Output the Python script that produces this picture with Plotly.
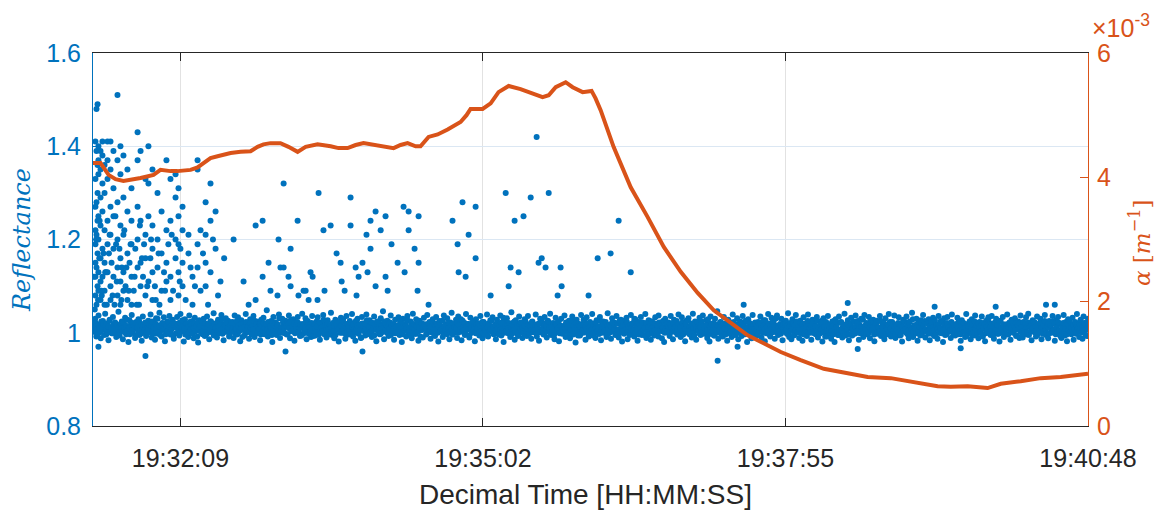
import plotly.graph_objects as go
from datetime import datetime, timedelta

# ---------------- data ----------------
t0 = datetime(2024, 1, 1, 19, 31, 19)   # left limit of the time axis
span_s = 569                              # seconds shown (to 19:40:48)

x_tick_times = ["19:32:09", "19:35:02", "19:37:55", "19:40:48"]
y_left_ticks = [0.8, 1.0, 1.2, 1.4, 1.6]
y_left_text = ["0.8", "1", "1.2", "1.4", "1.6"]
y_right_ticks_e3 = [0, 2, 4, 6]

# reflectance band, stream A: deviation from 1.01 in thousandths (regularly sampled)
band_dev_a = [
    12,-5,20,-18,3,27,-9,-22,8,15,-3,31,-14,6,-26,18,0,-11,24,-7,10,-19,4,35,-16,-2,14,-24,9,22,
    -13,1,-30,17,-6,28,-10,5,-21,13,-1,19,-15,7,-27,25,-4,11,-17,2,16,-8,29,-20,-3,12,-25,21,6,-12,
    33,-5,-18,10,23,-28,3,14,-9,26,-14,0,18,-23,8,-11,24,4,-16,30,-7,13,-29,19,-2,9,-19,27,-10,1,
    15,-22,22,-6,11,-31,17,-1,7,-13,20,-17,2,25,-9,-24,14,6,-4,32,-15,10,-20,18,-7,3,28,-12,-26,9,
    21,-3,16,-18,5,-6,13,-21,27,0,-14,23,8,-28,17,-2,11,-16,30,-9,4,-23,19,1,-11,26,-19,7,14,-5,
    9,-26,18,-4,22,-13,3,38,-18,6,-8,15,-30,24,-1,12,-15,5,29,-21,-6,20,-10,2,16,-14,4,27,-22,10,
    -3,19,-27,13,-9,24,1,-17,8,31,-12,-2,21,-24,15,-7,6,-19,26,-11,3,-16,14,23,-8,-25,11,0,28,-13,
    7,-20,17,-5,2,33,-15,9,-22,18,-4,12,-29,5,22,-10,19,-1,-23,26,8,-14,15,-6,30,-18,4,-27,12,20,
    -9,1,-21,24,-3,10,-16,29,-12,6,17,-7,-19,11,25,-2,-28,14,3,-13,21,-8,36,-24,9,-4,16,-17,0,27,
    -11,7,-25,18,4,-6,23,-15,12,-30,20,-1,8,-18,26,-9,2,14,-22,31,-5,-12,19,5,-27,16,-3,10,-20,22,
    0,-14,28,-8,13,-23,6,19,-2,-17,24,10,-29,15,-6,3,-19,27,-11,8,21,-4,-24,12,33,-13,1,-9,18,-21,
    25,-7,11,-26,16,2,-15,30,-3,9,-20,22,-10,5,14,-28,19,-1,7,-16,26,-8,-22,13,4,-12,29,-18,6,17,
    -5,23,-13,1,-24,18,10,-7,27,-16,3,-30,15,-2,21,-11,8,-19,34,-6,12,-25,17,0,-14,25,-9,4,-21,11,
    19,-2,-17,26,-10,6,-23,14,1,-8,29,-18,9,-27,20,-4,12,-13,24,3,-20,16,-6,31,-15,7,-1,-24,22,-9,
    13,-28,5,20,-12,-3,27,-19,8,-7,16,-22,2,25,-14,11,-31,18,-5,9,-16,28,-2,-10,15,-25,23,4,-18,6,
    -4,30,-16,10,-21,17,-1,-12,24,-26,7,14,-8,3,-19,32,-11,5,-23,21,-6,12,-15,26,-3,-20,9,18,-29,1,
    16,-9,22,-24,4,-13,28,-6,11,-18,19,0,-27,13,-4,24,-15,8,-2,30,-21,6,17,-10,-25,14,2,-16,23,-7,
    -12,27,-3,8,-22,15,-30,20,5,-9,12,-17,26,-1,-24,18,-6,10,-14,29,3,-19,23,-11,7,-28,16,-4,21,-13,
    4,-20,31,-8,14,-25,9,-2,22,-15,1,27,-12,-6,17,-21,11,-29,25,-3,8,-16,20,-10,36,-23,5,13,-7,-18,
    24,-11,2,-27,18,-5,12,-19,29,-8,6,-14,21,-24,10,3,-17,26,-9,-1,15,-30,19,-4,9,-22,28,-13,7,-2,
    -16,13,-7,25,-20,1,17,-28,8,-11,30,-3,-18,22,-9,14,-23,5,27,-15,2,-6,20,-26,11,-1,16,-12,32,-19,
    6,-24,19,-3,-14,28,-8,11,-21,16,0,-27,23,-10,4,-17,29,-5,12,-25,18,-2,9,-13,24,-20,3,-7,15,-29,
    21,-6,10,-18,26,-12,3,-23,14,7,-30,19,-1,-15,25,-8,13,-20,6,31,-11,-4,17,-26,8,22,-16,1,-9,27,
    -10,15,-25,4,20,-7,-19,28,-2,11,-14,24,-22,5,-5,18,-28,9,16,-12,-1,26,-17,12,-8,-24,21,3,-13,30,
    2,-18,13,-9,27,-21,7,-4,23,-16,10,-29,18,-6,1,25,-13,-22,14,-3,33,-19,6,-11,20,-27,11,-5,17,-15,
    28,-2,-20,12,-8,19,-26,4,-12,22,-17,9,0,-23,26,-10,15,-6,-30,21,5,-14,24,-4,10,-21,29,-9,3,-16,
    -7,22,-13,6,-27,17,-3,10,-19,30,-11,1,14,-24,19,-8,-16,27,-1,8,-22,13,-5,25,-18,2,-28,16,-10,23,
    11,-15,26,-4,-23,9,20,-12,3,-29,16,-7,24,-19,7,-2,29,-14,12,-25,18,-9,-3,21,-17,5,14,-21,27,-6,
    -20,8,-1,23,-14,31,-9,4,-26,17,-5,12,-18,25,-11,0,20,-24,9,-7,28,-15,2,-22,15,6,-10,26,-3,-27,
    17,-12,24,-6,9,-21,2,28,-16,13,-28,19,-3,7,-13,22,-25,10,-8,30,-1,-19,14,4,-23,25,-6,11,-17,20,
]

# reflectance band, stream B: deviation from 1.01 in thousandths (regularly sampled)
band_dev_b = [
    5,-8,2,11,-3,-12,7,0,-6,14,-1,9,-15,4,-4,10,-9,3,16,-7,1,-11,8,-2,12,-5,6,-14,3,-10,
    9,-1,-7,13,2,-9,5,18,-4,0,-13,7,-6,11,-2,4,-17,10,1,-8,15,-3,6,-11,2,8,-5,12,-9,0,
    -3,7,-10,4,14,-6,1,-12,9,-2,20,-8,3,-15,6,11,-4,-1,8,-13,5,-7,13,2,-10,-3,9,-16,4,10,
    1,-11,6,-4,12,-8,3,17,-6,2,-14,8,-1,5,-9,13,-3,7,-12,0,10,-6,4,-18,11,-2,6,-9,15,-4,
    -7,3,10,-13,1,8,-5,-2,14,-9,4,-16,7,0,11,-7,3,-11,9,-3,19,-10,2,6,-8,12,-4,1,-14,8,
    12,-5,1,-9,6,-2,15,-12,4,-6,9,-1,-19,7,2,-10,13,-5,3,-8,10,0,-13,5,-3,16,-7,8,-11,2,
    -2,9,-14,5,-6,11,0,-10,7,-3,13,-8,4,-1,-15,10,-4,6,-12,3,8,-6,21,-9,1,-5,12,-2,-11,7,
    4,-13,8,-1,16,-7,2,-4,10,-11,5,-3,12,-8,0,7,-16,3,9,-5,-1,14,-9,6,-12,2,-6,11,-3,-17,
    10,-4,-9,3,7,-14,12,-2,1,-7,18,-11,5,-4,9,-1,-13,6,2,-9,11,-6,4,-15,8,0,-3,13,-10,5,
    -6,14,-2,-11,4,9,-8,1,-5,12,-14,3,7,-3,-9,15,-1,5,-12,8,-4,-20,10,2,-7,6,-2,17,-13,1,
    3,-9,11,-5,0,-16,8,-3,13,-7,2,10,-12,5,-1,-8,14,-4,7,-10,3,-2,12,-15,6,-6,9,-1,-11,4,
    -10,6,-3,15,-8,1,-13,9,-5,4,-1,17,-9,2,-14,11,-6,0,8,-3,-12,5,13,-7,1,-18,10,-4,3,7,
    8,-2,-12,5,10,-6,3,-9,14,-1,-15,6,-4,9,-10,2,12,-7,-2,16,-11,4,-5,8,-13,0,11,-8,5,-3,
    -14,9,2,-6,-1,12,-10,7,-3,19,-8,1,-5,11,-13,4,-2,9,-16,6,0,-9,14,-4,3,-11,7,-1,10,-6,
    2,-7,13,-11,5,-4,8,-15,1,10,-6,-2,16,-9,3,-12,7,-5,11,-1,-14,6,-3,12,-8,22,-10,4,-7,9,
    -1,11,-8,3,-13,7,-4,14,-10,0,6,-17,9,-3,12,-6,1,-11,5,15,-7,-2,8,-12,4,-5,13,-9,2,-4,
    7,-12,4,-2,10,-9,17,-5,1,-14,8,-3,5,-8,13,-1,-10,6,-6,11,-15,3,9,-4,-1,14,-11,5,-7,0,
    -9,5,-1,12,-7,2,-11,9,-4,15,-13,6,0,-6,11,-2,-16,8,3,-10,7,-5,18,-8,4,-3,10,-12,1,13,
    6,-3,-14,8,-5,11,-1,-8,4,-12,16,-6,2,-10,9,-4,13,-15,5,-1,7,-9,3,12,-7,-2,8,-13,10,-5,
    -4,16,-10,1,-6,9,-12,5,-2,13,-8,3,-15,7,-1,10,-5,20,-11,4,-3,8,-14,6,0,-9,12,-4,2,-16,
    11,-6,3,-13,7,-1,14,-9,2,-4,10,-11,6,-18,12,-3,5,-7,1,15,-10,-2,9,-5,4,-12,7,3,-8,11,
    -5,2,-9,15,-3,8,-12,1,-7,12,-14,4,-2,9,-6,17,-11,3,-4,10,-9,0,-16,8,-1,13,-6,5,-12,2,
    14,-8,5,-2,-10,6,-4,19,-13,3,-1,8,-7,11,-16,2,7,-9,4,-3,12,-12,6,-5,10,-1,-14,9,-3,6,
    -11,4,-6,10,-2,13,-15,7,0,-8,5,-3,14,-10,2,-5,9,-13,16,-4,1,-7,11,-9,3,-17,8,-2,12,-6,
    3,-14,9,-5,12,-1,-9,6,-3,17,-11,2,-6,10,-15,4,-2,13,-8,5,-4,21,-10,1,-7,9,-12,4,-1,8,
    -8,10,-3,6,-13,2,11,-6,-1,9,-16,5,-4,14,-9,1,-3,12,-11,7,-2,-14,10,-5,3,15,-8,0,-10,6,
    9,-1,-11,4,-7,15,-5,2,-12,8,-3,11,-9,3,-18,13,-2,6,-10,1,9,-6,4,-13,16,-4,2,-8,11,-15,
    -3,12,-7,1,-10,5,-16,9,-2,7,-13,4,10,-4,-1,14,-12,3,-7,11,-5,8,-11,2,-6,18,-9,5,-3,-12,
    6,-10,2,13,-5,-3,9,-14,7,-1,12,-8,1,-6,16,-11,4,-4,10,-15,3,-2,7,-9,13,-1,-12,8,-6,4,
    -12,7,-4,11,-9,2,-15,6,3,-7,14,-2,-10,8,-5,12,-13,1,-3,19,-8,5,-1,-11,9,-6,3,-16,10,-2,
    5,-6,15,-3,-8,10,-12,4,-1,13,-9,2,-5,17,-14,6,-2,9,-7,0,-11,12,-4,7,-15,3,11,-9,1,-5,
    -7,13,-1,-12,6,-4,9,-10,2,16,-6,-13,5,-3,11,-8,1,-17,8,4,-5,10,-2,-14,7,-9,14,-1,6,-11,
    10,-3,-8,5,-14,11,-1,7,-11,3,-5,20,-9,2,-6,9,-15,4,12,-7,-2,6,-12,15,-4,1,-10,8,-3,-13,
    -2,8,-13,3,9,-6,-1,14,-10,5,-4,11,-16,6,-3,10,-8,2,-12,13,-5,7,1,-9,12,-15,4,-6,9,-1,
    13,-9,4,-5,-15,8,-2,11,-7,1,-12,6,15,-4,-10,3,9,-11,5,-1,14,-6,-3,10,-13,2,-8,12,-5,-17,
    -6,3,11,-10,5,-2,-14,9,-4,16,-8,1,-11,7,-3,13,-12,4,-1,10,-7,18,-9,2,-5,11,-13,6,-2,8,
]

# scattered reflectance points away from the band: seconds after t0, value
out_t = [
    1.4,1.4,1.4,1.4,1.4,1.4,1.4,1.4, 2.0,2.0,2.0,2.0,2.0,2.0, 2.6,2.6,2.6,2.6,2.6,2.6,
    3.1,3.1,3.1,3.1,3.1,3.1,3.1,3.1, 4.3,4.3,4.3,4.3,4.3,4.3,4.3, 5.4,5.4,5.4,5.4,5.4,5.4,
    6.6,6.6,6.6,6.6,6.6,6.6, 8.3,8.3,8.3,8.3,8.3,8.3, 10.0,10.0,10.0,10.0,10.0,10.0,
    11.7,11.7,11.7,11.7,11.7, 14.0,14.0,14.0,14.0,14.0,14.0, 15.7,15.7,15.7,15.7,15.7,15.7,
    17.4,17.4,17.4,17.4,17.4, 19.7,19.7,19.7,19.7, 22.0,22.0,22.0,22.0,22.0,
    25.5,25.5,25.5,25.5,25.5, 27.2,27.2,27.2,27.2, 30.0,30.0,30.0,30.0,30.0,
    31.7,31.7,31.7,31.7, 34.0,34.0,34.0,34.0,34.0, 36.9,36.9,36.9, 39.2,39.2,39.2,
    42.0,42.0,42.0,42.0, 44.3,44.3,44.3,44.3, 47.2,47.2,47.2,47.2, 48.9,48.9,48.9,48.9,48.9,
    51.2,51.2,51.2,51.2, 54.6,54.6, 56.9,56.9, 59.8,59.8,59.8,59.8, 61.5,61.5,
    64.4,64.4,64.4,64.4, 67.2,67.2,67.2, 70.1,70.1, 72.9,
    1.0,3.6,5.0,7.4,9.1,12.3,13.2,16.5,18.6,20.9,23.3,24.2,26.3,28.6,29.2,32.8,35.4,38.0,
    40.6,43.1,45.8,50.0,53.0,55.8,58.3,62.9,65.8,68.6,71.5,75.0,
    0.5,1.8,2.9,3.8,4.8,6.0,7.0,7.9,9.5,10.6,11.2,12.8,13.6,15.1,16.2,17.9,19.1,20.4,21.5,
    23.8,25.0,26.8,28.0,31.0,33.2,35.9,37.5,41.2,45.0,49.6,
    80.4,86.1,89.0,93.0,93.0,97.0,97.0,100.4,101.5,105.5,106.1,107.2,109.0,109.0,110.1,
    111.8,113.0,113.0,117.0,117.5,120.4,121.6,123.3,124.4,125.6,128.4,129.0,131.8,132.4,
    135.9,139.3,141.6,142.2,143.9,147.3,147.3,150.2,150.7,151.9,154.1,154.1,156.4,157.0,
    158.7,158.7,161.6,161.6,164.5,167.3,167.3,168.5,170.7,174.2,177.6,178.2,180.5,180.5,
    183.9,185.6,186.2,186.2,191.9,205.6,208.5,209.1,211.3,213.1,214.8,218.8,218.8,227.4,
    236.0,237.7,238.8,241.1,243.4,246.2,250.3,253.7,254.8,256.6,258.8,260.6,265.7,267.4,
    268.0,283.4,288.6,296.0,300.6,307.5,
    357.2,368.6,372.1,431.6,437.3,481.3,496.2,516.2,545.0,550.0,
]
out_v = [
    1.41,1.33,1.27,1.22,1.19,1.15,1.12,1.08, 1.48,1.39,1.28,1.21,1.14,1.06, 1.49,1.36,1.30,1.24,1.17,1.10,
    1.40,1.37,1.34,1.25,1.20,1.13,1.09,0.97, 1.39,1.35,1.29,1.23,1.16,1.11,1.07, 1.41,1.38,1.32,1.26,1.18,1.12,
    1.36,1.30,1.22,1.15,1.09,1.06, 1.41,1.37,1.33,1.24,1.19,1.13, 1.41,1.35,1.27,1.21,1.10,1.07,
    1.39,1.31,1.25,1.18,1.12, 1.51,1.37,1.28,1.20,1.14,1.08, 1.40,1.34,1.23,1.16,1.11,1.06,
    1.38,1.29,1.21,1.13,1.09, 1.35,1.26,1.17,1.07, 1.31,1.24,1.19,1.12,1.06,
    1.43,1.37,1.27,1.20,1.14, 1.39,1.24,1.15,1.10, 1.33,1.21,1.16,1.08,0.95,
    1.40,1.32,1.25,1.11, 1.35,1.23,1.18,1.13,1.07, 1.30,1.20,1.14, 1.26,1.17,1.09,
    1.37,1.22,1.15,1.11, 1.33,1.24,1.12,1.07, 1.34,1.29,1.20,1.16, 1.31,1.25,1.19,1.13,1.08,
    1.27,1.22,1.15,1.10, 1.21,1.17, 1.12,1.06, 1.37,1.35,1.19,1.14, 1.22,1.09,
    1.28,1.21,1.15,1.10, 1.32,1.24,1.13, 1.26,1.18, 1.11,
    1.05,1.16,1.08,1.13,1.17,1.06,1.19,1.14,1.10,1.15,1.09,1.18,1.06,1.12,1.19,1.16,1.10,1.06,
    1.13,1.19,1.09,1.18,1.07,1.14,1.10,1.17,1.06,1.20,1.08,1.16,
    1.12,1.20,1.07,1.24,1.09,1.17,1.13,1.06,1.21,1.15,1.08,1.25,1.11,1.18,1.07,1.22,1.14,1.09,1.19,
    1.12,1.06,1.23,1.16,1.10,1.20,1.07,1.17,1.09,1.21,1.11,
    1.20,1.11,1.06,1.23,1.07,1.24,1.12,1.15,1.09,1.08,1.20,1.14,1.32,1.14,0.96,
    1.12,1.18,1.10,1.24,1.08,1.09,1.09,1.07,1.13,1.12,1.07,1.30,1.22,1.09,
    1.23,1.17,1.15,1.11,1.09,1.29,1.23,1.14,1.08,1.12,1.15,0.96,1.21,1.13,
    1.24,1.18,1.10,1.26,1.22,1.12,1.25,1.09,1.19,1.15,1.27,1.13,1.22,1.26,
    1.18,1.09,1.15,1.25,1.06,1.24,1.19,1.13,1.28,1.12,1.21,1.27,1.16,1.08,
    1.30,1.10,1.14,1.24,1.13,1.25,1.29,1.42,1.15,1.16,1.14,1.30,1.08,1.14,
    1.10,1.08,1.16,1.17,1.24,1.13,
    0.94,0.97,1.06,1.064,0.965,1.056,0.967,1.056,1.06,1.06,
]

# extinction coefficient alpha (units of 1e-3 m^-1): seconds after t0, value
alpha_t = [
    0, 4.3, 8.9, 12.9, 17.4, 22.6, 27.2, 34.6, 38.6, 44.3, 48.3, 55.8, 59.8, 63.2, 67.2, 71.2,
    78.7, 84.4, 90.1, 94.1, 97.5, 101.5, 107.2, 111.8, 117.0, 121.6, 128.4, 135.9, 140.4,
    145.6, 150.2, 154.7, 162.7, 167.3, 171.9, 175.9, 179.9, 184.5, 187.3, 191.9, 197.1,
    202.8, 207.4, 210.2, 213.6, 215.9, 222.8, 227.4, 231.9, 237.7, 244.5, 252.0, 257.1,
    260.6, 264.6, 270.3, 274.3, 280.0, 285.1, 287.4, 290.3, 297.7, 307.5, 317.2, 326.4,
    336.1, 345.8, 355.0, 364.7, 374.4, 383.5, 393.3, 404.7, 417.9, 431.6, 443.0, 456.2,
    469.3, 483.0, 490.5, 500.2, 511.6, 519.1, 530.5, 542.0, 553.4, 569.0,
]
alpha_e3 = [
    4.23, 4.23, 4.04, 3.97, 3.94, 3.96, 3.99, 4.04, 4.12, 4.10, 4.10, 4.12, 4.16, 4.23, 4.31, 4.34,
    4.39, 4.41, 4.42, 4.49, 4.53, 4.55, 4.55, 4.49, 4.41, 4.49, 4.53, 4.50, 4.47,
    4.47, 4.52, 4.55, 4.52, 4.50, 4.47, 4.52, 4.55, 4.50, 4.50, 4.65, 4.69,
    4.77, 4.84, 4.89, 5.00, 5.10, 5.10, 5.19, 5.37, 5.47, 5.42, 5.35, 5.29,
    5.32, 5.45, 5.53, 5.45, 5.37, 5.39, 5.27, 5.08, 4.49, 3.84, 3.36, 2.88,
    2.48, 2.14, 1.86, 1.66, 1.46, 1.33, 1.19, 1.06, 0.92, 0.85, 0.79, 0.77,
    0.71, 0.64, 0.63, 0.64, 0.61, 0.68, 0.72, 0.77, 0.79, 0.84,
]

# ---------------- build ----------------
BLUE = "#0072BD"
ORANGE = "#D95319"
DARK = "#262626"
W, H = 1167, 510
ML, MR, MT, MB = 93, 79, 53, 84
PW, PH = W - ML - MR, H - MT - MB

def day(hms):
    return "2024-01-01 " + hms

def ts(sec):
    return t0 + timedelta(seconds=sec)

def stream(devs):
    n = len(devs)
    xs = [ts(i * span_s / (n - 1)) for i in range(n)]
    ys = [1.01 + d / 1000 for d in devs]
    return xs, ys

ax_, ay_ = stream(band_dev_a)
bx_, by_ = stream(band_dev_b)

fig = go.Figure()
fig.add_trace(go.Scatter(
    x=ax_ + bx_ + [ts(s) for s in out_t], y=ay_ + by_ + out_v,
    mode="markers", marker=dict(color=BLUE, size=6, line=dict(width=0)),
    yaxis="y", hoverinfo="skip"))
fig.add_trace(go.Scatter(
    x=[ts(s) for s in alpha_t], y=[a * 1e-3 for a in alpha_e3],
    mode="lines", line=dict(color=ORANGE, width=4),
    yaxis="y2", hoverinfo="skip"))

def px(x):
    return (x - ML) / PW

def py(y):
    return (H - MB - y) / PH

tickfont = dict(family="Liberation Sans, Arial, sans-serif", size=25)

fig.update_layout(
    width=W, height=H,
    margin=dict(l=ML, r=MR, t=MT, b=MB, pad=0),
    paper_bgcolor="white", plot_bgcolor="white",
    showlegend=False,
    xaxis=dict(
        type="date", range=[t0, ts(span_s)],
        tickvals=[day(t) for t in x_tick_times], ticktext=x_tick_times,
        ticks="inside", ticklen=8, tickcolor=DARK, tickwidth=1,
        showline=True, linecolor=DARK, linewidth=1, mirror="ticks",
        showgrid=True, gridcolor="#e2e2e2", gridwidth=1, zeroline=False,
        ticklabelstandoff=10,
        tickfont=dict(color=DARK, **tickfont)),
    yaxis=dict(
        range=[0.8, 1.6], tickvals=y_left_ticks, ticktext=y_left_text,
        ticks="inside", ticklen=8, tickcolor=BLUE, tickwidth=1,
        showline=True, linecolor=BLUE, linewidth=1,
        showgrid=True, gridcolor="#dbe7f3", gridwidth=1, zeroline=False,
        ticklabelstandoff=6,
        tickfont=dict(color=BLUE, **tickfont)),
    yaxis2=dict(
        overlaying="y", side="right", range=[0, 0.006],
        tickvals=[v * 1e-3 for v in y_right_ticks_e3], ticktext=[str(v) for v in y_right_ticks_e3],
        ticks="inside", ticklen=8, tickcolor=ORANGE, tickwidth=1,
        showline=True, linecolor=ORANGE, linewidth=1,
        showgrid=False, zeroline=False,
        ticklabelstandoff=3,
        tickfont=dict(color=ORANGE, **tickfont)),
    annotations=[
        dict(text="<i>Reflectance</i>", xref="paper", yref="paper",
             x=px(22), y=py(240), textangle=-90, showarrow=False,
             xanchor="center", yanchor="middle",
             font=dict(family="DejaVu Serif, Liberation Serif, serif", size=24, color=BLUE)),
        dict(text="<i>α</i> [<i>m</i><sup>−1</sup>]", xref="paper", yref="paper",
             x=px(1140), y=py(243), textangle=-90, showarrow=False,
             xanchor="center", yanchor="middle",
             font=dict(family="DejaVu Serif, Liberation Serif, serif", size=23, color=ORANGE)),
        dict(text="×10<sup>-3</sup>", xref="paper", yref="paper",
             x=px(1090), y=py(26), showarrow=False, xanchor="left", yanchor="middle",
             font=dict(family="Liberation Sans, Arial, sans-serif", size=25, color=ORANGE)),
        dict(text="Decimal Time [HH:MM:SS]", xref="paper", yref="paper",
             x=px(585), y=py(495), showarrow=False, xanchor="center", yanchor="middle",
             font=dict(family="Liberation Sans, Arial, sans-serif", size=28, color=DARK)),
    ],
)

fig.write_html("out.html")
